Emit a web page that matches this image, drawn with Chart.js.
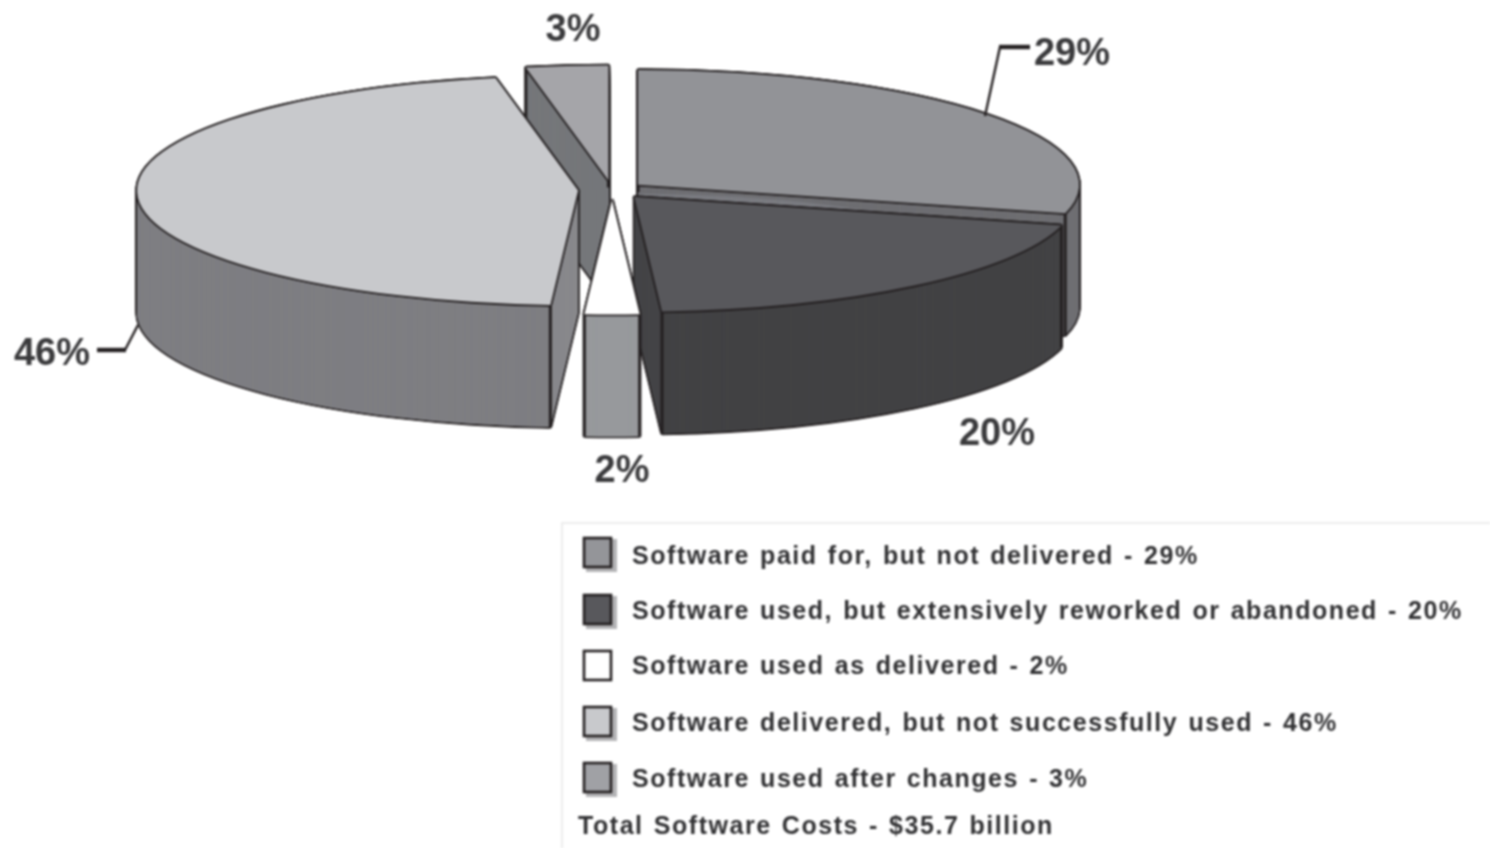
<!DOCTYPE html>
<html>
<head>
<meta charset="utf-8">
<title>Software costs</title>
<script src="https://cdn.jsdelivr.net/npm/chart.js@4/dist/chart.umd.min.js"></script>
<style>
  html, body { margin: 0; padding: 0; background: #fff; }
  canvas { display: block; filter: blur(0.8px); }
</style>
</head>
<body>
<canvas id="softwareCosts" width="1490" height="848"></canvas>
<script>
// data
const categories = [
  'Software paid for, but not delivered',
  'Software used, but extensively reworked or abandoned',
  'Software used as delivered',
  'Software delivered, but not successfully used',
  'Software used after changes'
];
const percentages = [29, 20, 2, 46, 3];
const totalLabel = 'Total Software Costs - $35.7 billion';

// styles, same order as the data
const topColors = ['#929397', '#58585c', '#ffffff', '#c8c9cc', '#a5a5a9'];
const wallColors = ['#6e6e72', '#424244', '#97999c', '#7e7e82', '#75777a'];
const cutColors = ['#7a7b80', '#454547', '#97999c', '#88888c', '#75777a'];
const swatchColors = ['#949599', '#58585c', '#ffffff', '#c8c9cc', '#a0a1a5'];
const explode = [33, 35, 38, 34, 38];
const labelSpots = [[1072, 55], [997, 435], [622, 472], [52, 355], [573, 31]];
const swatchTops = [537, 594, 650, 706, 762];
const legendLines = [557, 612, 667, 724, 780];
const drawOrder = [4, 0, 3, 1, 2];

const CX = 612, CY = 190, RADIUS = 441, SQUASH = 0.26, DEPTH = 122;
const INK = '#231f20', OUTLINE = 1.8;
const AROUND = [[1, 0], [-1, 0], [0, 1], [0, -1], [.7, .7], [-.7, .7], [.7, -.7], [-.7, -.7]];

function midAngle(el) { return (el.startAngle + el.endAngle) / 2; }

// draw one arc element with the pie squashed into a flat ellipse
function stamp(ctx, el, index, color, dx, dy) {
  const saved = el.options;
  el.options = { backgroundColor: color, borderColor: color, borderWidth: 0, offset: 0, spacing: 0, circular: true, borderRadius: 0, borderAlign: 'center' };
  const a = midAngle(el);
  ctx.save();
  ctx.translate(CX + Math.cos(a) * explode[index] + dx, CY + Math.sin(a) * explode[index] * SQUASH + dy);
  ctx.scale(1, SQUASH);
  ctx.translate(-el.x, -el.y);
  el.draw(ctx);
  ctx.restore();
  el.options = saved;
}

function drawSlice(ctx, el, index) {
  const inner = el.innerRadius;

  // black silhouette of the whole extruded slice
  for (let k = 0; k <= DEPTH; k += 2) {
    AROUND.forEach(o => stamp(ctx, el, index, INK, o[0] * OUTLINE, k + o[1] * OUTLINE));
  }
  // cut faces, then the outer wall swept from a thin rim
  for (let k = DEPTH; k >= 0; k--) stamp(ctx, el, index, cutColors[index], 0, k);
  el.innerRadius = el.outerRadius - 6;
  for (let k = DEPTH; k >= 0; k--) stamp(ctx, el, index, wallColors[index], 0, k);
  el.innerRadius = inner;

  // vertical edges where outer wall meets cut face
  const a = midAngle(el);
  const ox = CX + Math.cos(a) * explode[index];
  const oy = CY + Math.sin(a) * explode[index] * SQUASH;
  ctx.save();
  ctx.strokeStyle = INK;
  ctx.lineWidth = 3;
  [el.startAngle, el.endAngle].forEach(t => {
    const px = ox + Math.cos(t) * el.outerRadius;
    const py = oy + Math.sin(t) * el.outerRadius * SQUASH;
    ctx.beginPath();
    ctx.moveTo(px, py);
    ctx.lineTo(px, py + DEPTH);
    ctx.stroke();
  });
  ctx.restore();

  // top face
  AROUND.forEach(o => stamp(ctx, el, index, INK, o[0] * OUTLINE, o[1] * OUTLINE));
  stamp(ctx, el, index, topColors[index], 0, 0);
}

function leader(ctx, thin, thick) {
  ctx.strokeStyle = INK;
  ctx.lineCap = 'butt';
  ctx.lineWidth = 2.4;
  ctx.beginPath();
  ctx.moveTo(thin[0][0], thin[0][1]);
  ctx.lineTo(thin[1][0], thin[1][1]);
  ctx.stroke();
  ctx.lineWidth = 4.4;
  ctx.beginPath();
  ctx.moveTo(thick[0][0], thick[0][1]);
  ctx.lineTo(thick[1][0], thick[1][1]);
  ctx.stroke();
}

const pie3d = {
  id: 'pie3d',
  beforeDatasetsDraw(chart) {
    const ctx = chart.ctx;
    const arcs = chart.getDatasetMeta(0).data;
    drawOrder.forEach(i => drawSlice(ctx, arcs[i], i));
    return false;
  },
  afterDraw(chart) {
    const ctx = chart.ctx;
    ctx.save();

    leader(ctx, [[985, 116], [1000, 47]], [[999, 47], [1030, 47]]);
    leader(ctx, [[138, 325], [125, 350]], [[126, 350], [97, 350]]);

    ctx.fillStyle = '#3a3a3c';
    ctx.font = 'bold 38px "Liberation Sans"';
    ctx.textAlign = 'center';
    ctx.textBaseline = 'middle';
    percentages.forEach((v, i) => ctx.fillText(v + '%', labelSpots[i][0], labelSpots[i][1]));

    // legend frame
    ctx.strokeStyle = '#e6e6e6';
    ctx.lineWidth = 1.5;
    ctx.beginPath();
    ctx.moveTo(562, 848);
    ctx.lineTo(562, 523);
    ctx.lineTo(1490, 523);
    ctx.stroke();

    ctx.font = 'bold 25px "Liberation Sans"';
    ctx.letterSpacing = '1.55px';
    ctx.wordSpacing = '1.6px';
    ctx.textAlign = 'left';
    categories.forEach((name, i) => {
      const top = swatchTops[i];
      if (i !== 2) {
        ctx.fillStyle = '#b4b4b6';
        ctx.fillRect(586, top + 2, 31, 33);
      }
      ctx.fillStyle = swatchColors[i];
      ctx.fillRect(584, top + 1, 27, 29);
      ctx.strokeStyle = INK;
      ctx.lineWidth = 2.6;
      ctx.strokeRect(584, top + 1, 27, 29);
      ctx.fillStyle = '#303032';
      ctx.fillText(name + ' - ' + percentages[i] + '%', 632, legendLines[i]);
    });
    ctx.fillText(totalLabel, 578, 827);
    ctx.restore();
  }
};

const softwareCosts = new Chart(document.getElementById('softwareCosts'), {
  type: 'pie',
  data: {
    labels: categories,
    datasets: [{ data: percentages, backgroundColor: topColors, borderWidth: 0 }]
  },
  options: {
    responsive: false,
    animation: false,
    radius: RADIUS,
    plugins: { legend: { display: false }, tooltip: { enabled: false } }
  },
  plugins: [pie3d]
});
</script>
</body>
</html>
